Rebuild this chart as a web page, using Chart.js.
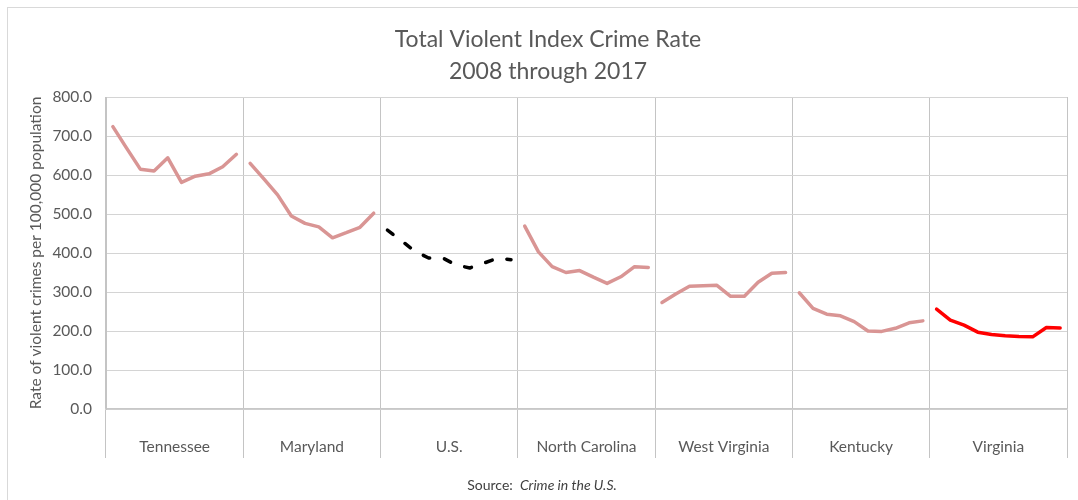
<!DOCTYPE html>
<html>
<head>
<meta charset="utf-8">
<title>Total Violent Index Crime Rate</title>
<script src="https://cdn.jsdelivr.net/npm/chart.js@4.4.1/dist/chart.umd.min.js"></script>
<style>
    html, body { margin: 0; padding: 0; background: #fff; overflow: hidden; }
    #frame {
        position: absolute; left: 7px; top: 7px;
        width: 1100px; height: 520px;
        border: 1px solid #d9d9d9;
    }
    #crimeChart { position: absolute; left: 0; top: 0; }
</style>
</head>
<body>
<div id="frame"></div>
<canvas id="crimeChart" width="1078" height="500"></canvas>
<script>
// violent crimes per 100,000 population, 2008-2017
const years = ['2008', '2009', '2010', '2011', '2012', '2013', '2014', '2015', '2016', '2017'];
const regions = ['Tennessee', 'Maryland', 'U.S.', 'North Carolina', 'West Virginia', 'Kentucky', 'Virginia'];
const yTicks = [0, 100, 200, 300, 400, 500, 600, 700, 800];

const tennessee = [724, 669, 615, 610, 644, 581, 597, 603, 621, 653];
const maryland = [630, 590, 549, 495, 476, 467, 439, 452, 466, 502];
const unitedStates = [458.6, 431.9, 404.5, 387.1, 387.8, 369.1, 361.6, 373.7, 386.3, 382.9];
const northCarolina = [469, 403, 365, 350, 355, 338, 322, 339, 365, 363];
const westVirginia = [273, 295, 315, 316, 317, 289, 289, 325, 348, 350];
const kentucky = [298, 258, 243, 239, 224, 200, 199, 207, 221, 226];
const virginia = [256, 228, 215, 197, 191, 188, 186, 185, 209, 208];

const seriesByRegion = [tennessee, maryland, unitedStates, northCarolina, westVirginia, kentucky, virginia];

const PINK = '#d99594';
const TEXT = '#595959';

(function () {
    // one category per region-year; each region only fills its own block of ten
    const labels = regions.flatMap(r => years.map(y => r + ' ' + y));

    function padded(index, values) {
        const out = new Array(labels.length).fill(null);
        values.forEach((v, i) => { out[index * years.length + i] = v; });
        return out;
    }

    const datasets = regions.map((name, i) => {
        const ds = {
            label: name,
            data: padded(i, seriesByRegion[i]),
            borderColor: PINK,
            borderWidth: 3.5,
            pointRadius: 0,
            pointHoverRadius: 0,
            tension: 0,
            fill: false,
            spanGaps: false,
            borderJoinStyle: 'round',
            borderCapStyle: 'round',
        };
        if (name === 'U.S.') {
            ds.borderColor = '#000000';
            ds.borderDash = [7, 15];
        } else if (name === 'Virginia') {
            ds.borderColor = '#ff0000';
        }
        return ds;
    });

    // title lines and the source note are drawn straight onto the canvas
    const headerFooter = {
        id: 'headerFooter',
        afterDraw(chart) {
            const ctx = chart.ctx;
            ctx.save();
            ctx.fillStyle = TEXT;
            ctx.textAlign = 'center';
            ctx.textBaseline = 'alphabetic';
            ctx.font = '23px Lato';
            ctx.fillText('Total Violent Index Crime Rate', 548, 47);
            ctx.fillText('2008 through 2017', 548, 79);

            const lead = 'Source:  ';
            const book = 'Crime in the U.S.';
            ctx.font = '14px Lato';
            const w1 = ctx.measureText(lead).width;
            ctx.font = 'italic 14px Lato';
            const w2 = ctx.measureText(book).width;
            const x = 542 - (w1 + w2) / 2;
            ctx.textAlign = 'left';
            ctx.fillStyle = '#404040';
            ctx.font = '14px Lato';
            ctx.fillText(lead, x, 490);
            ctx.font = 'italic 14px Lato';
            ctx.fillText(book, x + w1, 490);
            ctx.restore();
        }
    };

    const canvas = document.getElementById('crimeChart');
    // @ts-ignore - Chart comes from the CDN script
    new Chart(canvas, {
        type: 'line',
        data: { labels: labels, datasets: datasets },
        options: {
            responsive: false,
            animation: false,
            layout: { padding: { top: 97, right: 11, bottom: 0, left: 0 } },
            plugins: {
                legend: { display: false },
                tooltip: { enabled: false },
                title: { display: false },
            },
            scales: {
                x: {
                    type: 'category',
                    display: false,
                    offset: true,
                },
                x2: {
                    type: 'category',
                    labels: regions,
                    position: 'bottom',
                    offset: true,
                    afterFit(scale) { scale.height = 91; },
                    grid: {
                        offset: true,
                        color: '#c4c4c4',
                        lineWidth: 1,
                        tickLength: 49,
                        drawOnChartArea: true,
                    },
                    border: { display: true, color: '#c8c8c8', width: 1.5 },
                    ticks: {
                        autoSkip: false,
                        maxRotation: 0,
                        padding: -20,
                        color: TEXT,
                        font: { family: 'Lato', size: 15.5 },
                    },
                },
                y: {
                    min: 0,
                    max: 800,
                    afterFit(scale) { scale.width = 106; },
                    afterBuildTicks(scale) { scale.ticks = yTicks.map(v => ({ value: v })); },
                    grid: { color: '#d4d4d4', lineWidth: 1, drawTicks: false },
                    border: { display: true, color: '#c4c4c4' },
                    ticks: {
                        padding: 14,
                        color: TEXT,
                        font: { family: 'Lato', size: 15.5 },
                        callback: v => Number(v).toFixed(1),
                    },
                    title: {
                        display: true,
                        text: 'Rate of violent crimes per 100,000 population',
                        color: TEXT,
                        font: { family: 'Lato', size: 15.5 },
                        padding: { top: 27, bottom: 0 },
                    },
                },
            },
        },
        plugins: [headerFooter],
    });
})();
</script>
</body>
</html>
